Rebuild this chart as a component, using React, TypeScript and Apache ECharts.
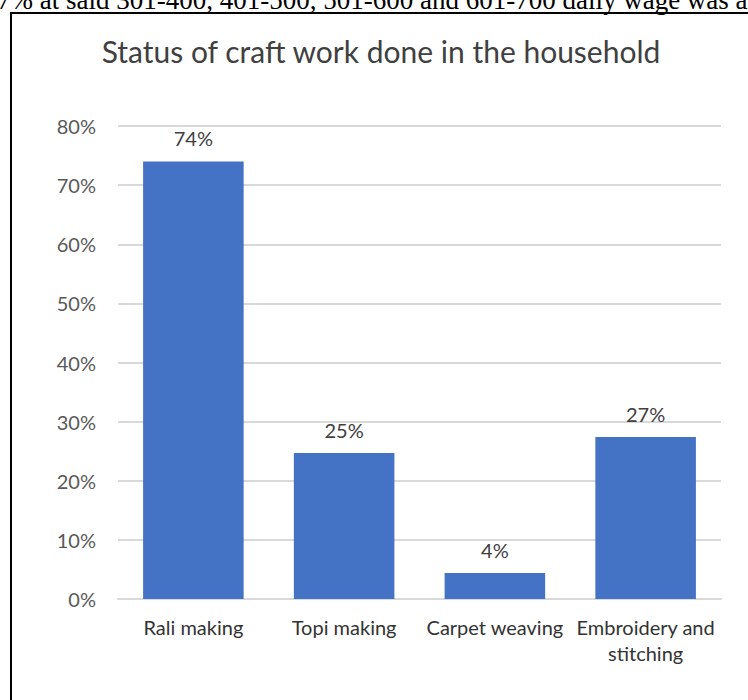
import React, { useEffect, useRef } from "react";
import * as echarts from "echarts";

const categories = ["Rali making", "Topi making", "Carpet weaving", "Embroidery and\nstitching"];
const values = [74, 24.7, 4.4, 27.4];
const yTicks = [0, 10, 20, 30, 40, 50, 60, 70, 80];
const titleText = "Status of craft work done in the household";
const topLine = "7% at said 301-400, 401-500, 501-600 and 601-700 daily wage was a";

export default function App() {
  const ref = useRef<HTMLDivElement>(null);
  useEffect(() => {
    if (!ref.current) return;
    const chart = echarts.init(ref.current, undefined, { renderer: "svg" });
    const font = "Lato";
    chart.setOption({
      animation: false,
      title: {
        text: titleText,
        left: "center",
        top: 22,
        padding: 0,
        textStyle: { fontFamily: font, fontSize: 30, fontWeight: "normal", color: "#404040" },
      },
      grid: { left: 106, right: 29, top: 112, bottom: 101, containLabel: false },
      xAxis: {
        type: "category",
        data: categories,
        axisLine: { show: true, lineStyle: { color: "#d9d9d9", width: 2 } },
        axisTick: { show: false },
        axisLabel: {
          fontFamily: font,
          fontSize: 20,
          color: "#333333",
          margin: 15,
          lineHeight: 26,
          interval: 0,
        },
      },
      yAxis: {
        type: "value",
        min: yTicks[0],
        max: yTicks[yTicks.length - 1],
        interval: 10,
        axisLine: { show: false },
        axisTick: { show: false },
        splitLine: { lineStyle: { color: "#d9d9d9", width: 2 } },
        axisLabel: {
          fontFamily: font,
          fontSize: 20,
          color: "#595959",
          margin: 22,
          formatter: (v: number) => `${v}%`,
        },
      },
      series: [
        {
          type: "bar",
          data: values,
          barCategoryGap: "33.3%",
          itemStyle: { color: "#4472C4" },
          label: {
            show: true,
            position: "top",
            distance: 13,
            fontFamily: font,
            fontSize: 20,
            color: "#404040",
            formatter: (p: any) => `${Math.round(p.value)}%`,
          },
        },
      ],
    });
    return () => chart.dispose();
  }, []);

  return (
    <div style={{ position: "fixed", left: 0, top: 0, width: 748, height: 700, overflow: "hidden", background: "#fff" }}>
      <div
        style={{
          position: "absolute",
          left: -3,
          top: -13,
          whiteSpace: "nowrap",
          fontFamily: '"Liberation Serif", "Times New Roman", serif',
          fontSize: 27,
          lineHeight: 1,
          color: "#000",
        }}
      >
        {topLine}
      </div>
      <div
        style={{
          position: "absolute",
          left: 10,
          top: 12,
          width: 742,
          height: 720,
          border: "2px solid #000",
          boxSizing: "border-box",
          background: "transparent",
        }}
      >
        <div ref={ref} style={{ position: "absolute", left: 0, top: 0, width: 738, height: 686 }} />
      </div>
    </div>
  );
}
